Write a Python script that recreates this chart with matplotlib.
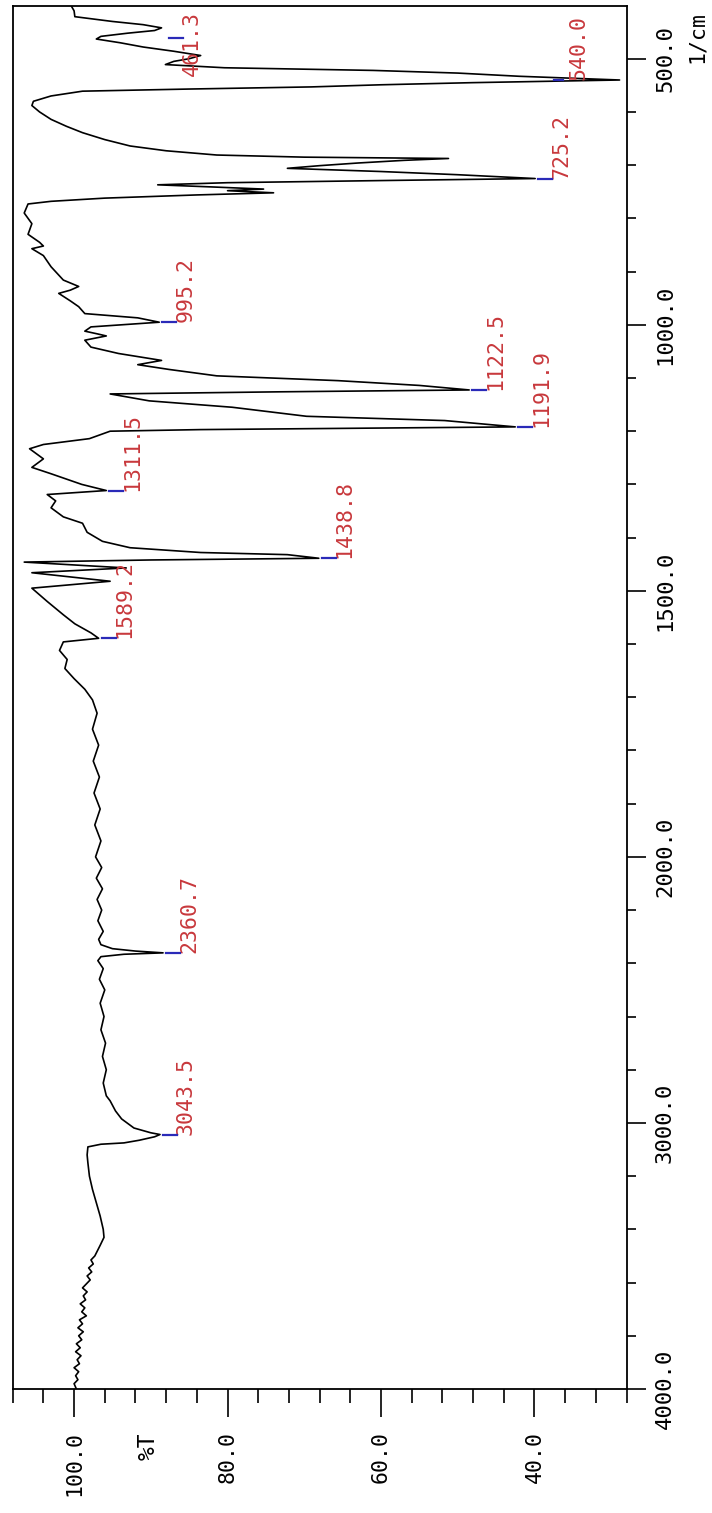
import numpy as np
import matplotlib
matplotlib.use("Agg")
import matplotlib.pyplot as plt
from matplotlib.lines import Line2D
from matplotlib.transforms import IdentityTransform

# ---------------- data ----------------
wavenumber = [400, 410, 421, 430, 436, 442, 447, 452, 458, 463, 470, 478,
              486, 494, 500, 505, 511, 517, 522, 527, 533, 540.0, 545, 549,
              553, 557, 561, 570, 580, 588, 600, 614, 627, 639, 652, 664,
              673, 681, 685, 687.5, 691, 696, 701, 706, 712, 718, 725.2, 729,
              733, 737, 741, 745, 748, 752, 756, 762, 768, 773, 790, 810,
              830, 845, 852, 857, 870, 891, 916, 928, 935, 941, 955, 966,
              979, 987, 995.2, 1004, 1012, 1017, 1021, 1029, 1042, 1054, 1067, 1075,
              1084, 1096, 1105, 1114, 1122.5, 1126, 1130, 1143, 1155, 1172, 1180, 1191.9,
              1197, 1200, 1214, 1225, 1233, 1252, 1268, 1280, 1290, 1300, 1311.5, 1319,
              1331, 1344, 1361, 1373, 1390, 1407, 1419, 1428, 1432, 1438.8, 1442, 1446,
              1457, 1466, 1482, 1495, 1520, 1545, 1562, 1579, 1589.2, 1596, 1612, 1629,
              1646, 1665, 1685, 1705, 1730, 1760, 1790, 1820, 1850, 1880, 1910, 1940,
              1970, 2000, 2040, 2080, 2120, 2160, 2200, 2240, 2280, 2310, 2330, 2345,
              2354, 2360.7, 2366, 2375, 2390, 2420, 2460, 2500, 2550, 2600, 2650, 2700,
              2750, 2800, 2850, 2898, 2917, 2955, 2985, 3019, 3037, 3043.5, 3052, 3065,
              3075, 3080, 3090, 3120, 3150, 3200, 3250, 3300, 3350, 3400, 3430, 3460,
              3500, 3515, 3530, 3545, 3560, 3575, 3590, 3605, 3620, 3635, 3650, 3665,
              3680, 3695, 3710, 3725, 3740, 3755, 3770, 3785, 3800, 3815, 3830, 3845,
              3860, 3875, 3890, 3905, 3920, 3935, 3950, 3965, 3980, 4000]
transmittance = [100.4, 100.0, 99.9, 95.0, 91.0, 88.6, 89.5, 93.0, 96.5, 97.1, 94.0, 91.0,
                 87.0, 83.5, 85.0, 87.0, 88.1, 80.4, 61.0, 50.0, 42.0, 28.9, 48.1, 60.0,
                 69.1, 85.0, 98.9, 103.0, 105.3, 105.5, 104.5, 103.0, 101.0, 98.9, 96.0, 92.7,
                 88.0, 81.4, 70.0, 51.2, 57.0, 63.0, 68.0, 72.2, 60.0, 50.0, 39.9, 60.0,
                 80.0, 89.1, 82.0, 75.3, 80.0, 74.0, 84.0, 96.0, 103.0, 106.0, 106.5, 105.5,
                 106.0, 104.5, 104.0, 105.5, 104.0, 103.0, 101.4, 99.4, 100.5, 102.0, 100.5, 99.4,
                 98.6, 91.7, 88.9, 97.8, 98.6, 97.0, 95.8, 98.6, 97.8, 94.2, 88.6, 91.7,
                 87.6, 81.4, 65.6, 55.0, 48.5, 73.2, 95.3, 90.2, 79.4, 69.7, 51.7, 42.5,
                 83.5, 95.3, 98.0, 104.0, 105.8, 104.0, 105.5, 103.0, 101.0, 99.0, 95.8, 103.5,
                 102.4, 103.0, 101.4, 98.9, 98.3, 96.3, 92.7, 83.5, 72.2, 68.1, 90.0, 106.5,
                 93.2, 105.5, 95.3, 105.5, 103.5, 101.4, 99.9, 97.8, 96.8, 101.4, 101.9, 100.9,
                 101.2, 100.0, 98.6, 97.6, 97.0, 97.6, 96.8, 97.5, 96.7, 97.4, 96.6, 97.3,
                 96.5, 97.2, 96.4, 97.1, 96.3, 97.0, 96.4, 96.9, 96.2, 96.8, 96.5, 95.0,
                 92.0, 88.4, 93.5, 96.5, 96.9, 96.2, 96.7, 96.0, 96.6, 96.1, 96.5, 95.9,
                 96.3, 95.8, 96.2, 95.8, 95.3, 94.6, 93.8, 92.2, 90.0, 88.8, 89.5, 91.5,
                 93.5, 96.5, 98.2, 98.3, 98.2, 98.0, 97.6, 97.1, 96.6, 96.2, 96.1, 96.6,
                 97.3, 97.8, 97.5, 98.1, 97.7, 98.3, 97.9, 98.4, 98.9, 98.3, 98.8, 98.5,
                 99.2, 98.6, 99.0, 98.4, 99.3, 98.9, 99.5, 98.8, 99.4, 99.0, 99.7, 99.2,
                 99.8, 99.1, 99.6, 99.3, 100.0, 99.4, 99.8, 99.5, 100.0, 99.7]

peak_wn = [3043.5, 2360.7, 1589.2, 1438.8, 1311.5, 1191.9, 1122.5, 995.2, 725.2, 540.0, 461.3]
peak_T = [88.8, 88.4, 96.8, 68.1, 95.8, 42.5, 48.5, 88.9, 39.9, 28.9, 88.0]
peak_labels = ["3043.5", "2360.7", "1589.2", "1438.8", "1311.5", "1191.9",
               "1122.5", "995.2", "725.2", "540.0", "461.3"]

x_major = [100, 80, 60, 40]
x_major_labels = ["100.0", "80.0", "60.0", "40.0"]
x_minor = [108, 104, 96, 92, 88, 84, 76, 72, 68, 64, 56, 52, 48, 44, 36, 32, 28]
y_major = [500, 1000, 1500, 2000, 3000, 4000]
y_major_labels = ["500.0", "1000.0", "1500.0", "2000.0", "3000.0", "4000.0"]
y_minor = [600, 700, 800, 900, 1100, 1200, 1300, 1400, 1600, 1700, 1800, 1900,
           2200, 2400, 2600, 2800, 3200, 3400, 3600, 3800]

# ---------------- figure ----------------
W, H, DPI = 712, 1513, 100
fig = plt.figure(figsize=(W / DPI, H / DPI), dpi=DPI)
FONT = "DejaVu Sans Mono"
RED = "#c8383c"
BLUE = "#2a2ab8"

left_px, right_px, top_px, bot_px = 12.7, 626.5, 5.5, 1389.0
ax = fig.add_axes([left_px / W, 1 - bot_px / H, (right_px - left_px) / W, (bot_px - top_px) / H])


def fwd(w):
    w = np.asarray(w, dtype=float)
    return np.where(w <= 2000, w, 2000 + (w - 2000) / 2.0)


def inv(s):
    s = np.asarray(s, dtype=float)
    return np.where(s <= 2000, s, 2000 + (s - 2000) * 2.0)


ax.set_yscale("function", functions=(fwd, inv))
ax.plot(transmittance, wavenumber, color="black", lw=1.2)
ax.set_xlim(108, 28)
ax.set_ylim(4000, 400)

for s in ax.spines.values():
    s.set_linewidth(1.3)

# %T axis (bottom)
ax.set_xticks(x_major)
ax.set_xticklabels(x_major_labels, rotation=90, fontfamily=FONT, fontsize=15.5)
ax.set_xticks(x_minor, minor=True)
ax.tick_params(axis="x", which="major", direction="out", length=20, width=1.2, pad=10)
ax.tick_params(axis="x", which="minor", direction="out", length=10, width=1.2)
ax.tick_params(axis="x", which="both", top=False)

# wavenumber axis (right)
ax.yaxis.tick_right()
ax.set_yticks(y_major)
ax.set_yticklabels(y_major_labels, rotation=90, va="center", fontfamily=FONT, fontsize=16)
ax.set_yticks(y_minor, minor=True)
ax.yaxis.set_minor_formatter(plt.NullFormatter())
ax.tick_params(axis="y", which="major", direction="out", length=13.5, width=1.2, pad=7)
ax.tick_params(axis="y", which="minor", direction="out", length=6.5, width=1.2)
ax.tick_params(axis="y", which="both", left=False)

ax.annotate("%T", xy=(90.3, 0), xycoords=("data", "axes fraction"),
            xytext=(0, -31), textcoords="offset points", rotation=90,
            ha="center", va="top", fontfamily=FONT, fontsize=16.5)
fig.text(697 / W, 1 - 37 / H, "1/cm", rotation=90, ha="center", va="center",
         fontfamily=FONT, fontsize=15.5)

# peak markers: short blue tick after the peak tip, then the value (rotated)
fig.canvas.draw()
ax_bb = ax.get_window_extent()
GAP, TICK = 3.0, 14.0  # pixels
TEXT_OFF = GAP + TICK - 1.0
for w, t, lab in zip(peak_wn, peak_T, peak_labels):
    px, py = ax.transData.transform((t, w))
    txt = ax.annotate(lab, xy=(t, w), xytext=(TEXT_OFF * 72.0 / DPI, 0),
                      textcoords="offset points", rotation=90, rotation_mode="anchor",
                      ha="left", va="top", color=RED, fontfamily=FONT, fontsize=15.5)
    fig.canvas.draw()
    bb = txt.get_window_extent()
    dx = dy = 0.0
    right_limit = ax_bb.x1 - 38
    if bb.x1 > right_limit:          # label would leave the frame: pull it left
        dx = bb.x1 - right_limit
    top_limit = ax_bb.y1 - 6
    if bb.y1 > top_limit:            # label would cross the top edge: pull it down
        dy = bb.y1 - top_limit
    if dx or dy:
        ox, oy = txt.xyann
        txt.xyann = (ox - dx * 72.0 / DPI, oy - dy * 72.0 / DPI)
    tick_end = px + GAP + TICK - dx - (7 if dx else 0)
    tick_start = tick_end - TICK + (5 if dx else 0)
    fig.add_artist(Line2D([tick_start, tick_end], [py, py], transform=IdentityTransform(),
                          color=BLUE, lw=1.6))

fig.savefig("out.png", dpi=DPI)
